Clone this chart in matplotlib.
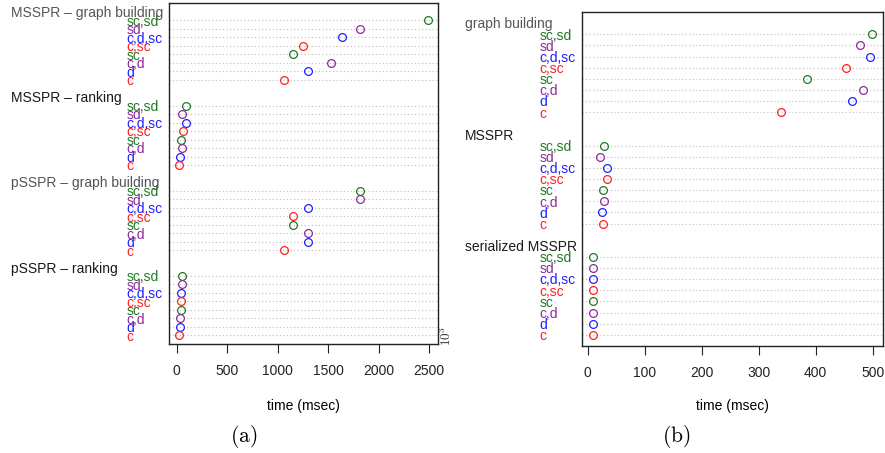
import matplotlib
matplotlib.use('Agg')
import matplotlib.pyplot as plt
import matplotlib.transforms as mtransforms

plt.rcParams['font.family'] = 'Liberation Sans'
plt.rcParams['font.size'] = 10
plt.rcParams['mathtext.fontset'] = 'cm'

GREEN = '#1f7a1f'
PURPLE = '#8e2a9c'
BLUE = '#2020ff'
RED = '#ff2020'

row_labels = ['sc,sd', 'sd', 'c,d,sc', 'c,sc', 'sc', 'c,d', 'd', 'c']
row_colors = [GREEN, PURPLE, BLUE, RED, GREEN, PURPLE, BLUE, RED]

# panel (a)
groups_a = ['MSSPR – graph building', 'MSSPR – ranking',
            'pSSPR – graph building', 'pSSPR – ranking']
header_colors_a = ['#555555', '#1a1a1a', '#555555', '#1a1a1a']
msspr_build = [2487, 1812, 1634, 1250, 1154, 1531, 1303, 1068]
msspr_rank = [89, 50, 96, 66, 43, 53, 30, 23]
psspr_build = [1812, 1812, 1303, 1154, 1154, 1303, 1303, 1068]
psspr_rank = [50, 50, 40, 40, 40, 30, 30, 23]
ticks_a = [0, 500, 1000, 1500, 2000, 2500]

# panel (b)
groups_b = ['graph building', 'MSSPR', 'serialized MSSPR']
header_colors_b = ['#555555', '#1a1a1a', '#1a1a1a']
graph_build = [499, 478, 495, 454, 384, 483, 464, 339]
msspr_b = [29, 22, 34, 34, 27, 29, 25, 27]
ser_msspr = [9, 9, 10, 9, 9, 9, 9, 9]
ticks_b = [0, 100, 200, 300, 400, 500]

W, H = 885, 453


def px_x(p):
    return p / W


def px_y(p):
    return 1 - p / H


def dotchart(fig, rect, groups, header_colors, values, ticks, label_x, header_x):
    ax = fig.add_axes(rect)
    G = len(groups)
    allv = [v for vals in values for v in vals]
    lo, hi = min(allv), max(allv)
    ext = (hi - lo) * 0.04
    ax.set_xlim(lo - ext, hi + ext)
    ax.set_ylim(0, 10 * G)

    trans = mtransforms.blended_transform_factory(fig.transFigure, ax.transData)
    shift = mtransforms.ScaledTranslation(0, -5.3 / 100, fig.dpi_scale_trans)

    for g, (name, vals) in enumerate(zip(groups, values)):
        base = (G - 1 - g) * 10
        for r, v in enumerate(vals):
            pos = base + 8 - r
            ax.axhline(pos, color='#bdbdbd', lw=0.8, ls=(0, (1, 2.2)), zorder=1)
            ax.plot(v, pos, 'o', mfc='none', mec=row_colors[r], ms=5.6, mew=0.9, zorder=3)
            ax.text(label_x, pos, row_labels[r], color=row_colors[r], ha='left',
                    va='baseline', transform=trans + shift, fontsize=10)
        ax.text(header_x, base + 9, name, color=header_colors[g], ha='left',
                va='baseline', transform=trans + shift, fontsize=10)

    ax.set_yticks([])
    ax.set_xticks(ticks)
    ax.tick_params(axis='x', direction='out', length=6.5, width=0.8, pad=8,
                   labelsize=10, colors='#222222')
    for sp in ax.spines.values():
        sp.set_linewidth(1.0)
        sp.set_color('#222222')
    return ax


fig = plt.figure(figsize=(W / 100, H / 100), dpi=100)

ax_a = dotchart(fig, [px_x(169), px_y(344), px_x(437.7 - 169), (344 - 3.3) / H],
                groups_a, header_colors_a,
                [msspr_build, msspr_rank, psspr_build, psspr_rank], ticks_a,
                px_x(126.7), px_x(10.7))
ax_b = dotchart(fig, [px_x(581.7), px_y(346), px_x(883.3 - 581.7), (346 - 12) / H],
                groups_b, header_colors_b,
                [graph_build, msspr_b, ser_msspr], ticks_b,
                px_x(539.3), px_x(465.3))

fig.text(px_x(303.4), px_y(405.7), 'time (msec)', ha='center', va='center', fontsize=10)
fig.text(px_x(732.5), px_y(405.7), 'time (msec)', ha='center', va='center', fontsize=10)

fig.text(px_x(446), px_y(335.5), r'$10^3$', rotation=90, ha='center', va='center',
         fontsize=9.5, color='#333333')

fig.text(px_x(243.7), px_y(436.7), r'$(\mathrm{a})$', ha='center', va='center', fontsize=15.5)
fig.text(px_x(676.7), px_y(436.7), r'$(\mathrm{b})$', ha='center', va='center', fontsize=15.5)

fig.savefig('out.png', dpi=100)
